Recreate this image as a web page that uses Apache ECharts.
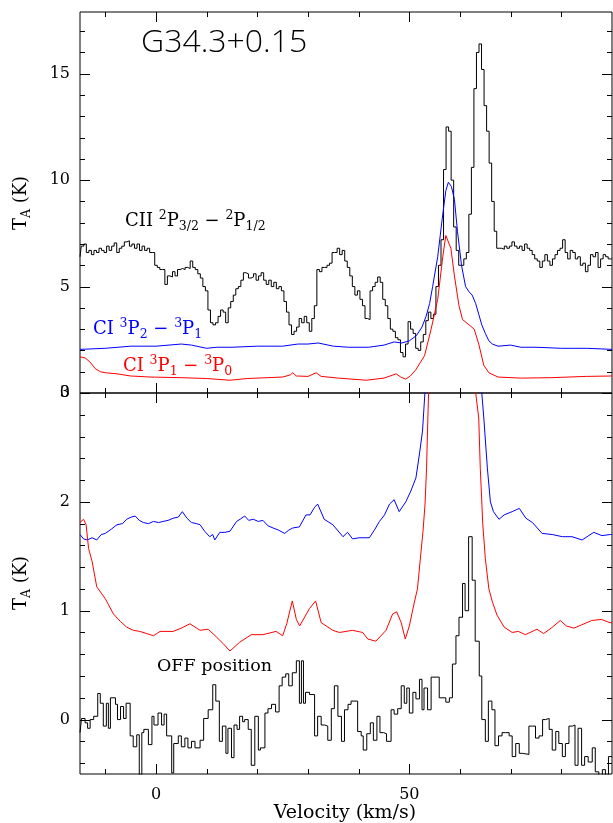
<!DOCTYPE html>
<html>
<head>
<meta charset="utf-8">
<script src="https://cdn.jsdelivr.net/npm/echarts@6/dist/echarts.min.js"></script>
<style>html,body{margin:0;padding:0;background:#fff}#c{width:613px;height:823px}</style>
</head>
<body>
<div id="c"></div>
<script>
// ---------------- data ----------------
const xMajorTicks = [0, 50];
const xMinorTicks = [-10, 10, 20, 30, 40, 60, 70, 80];
const topYMajorTicks = [0, 5, 10, 15];
const topYMinorTicks = [1, 2, 3, 4, 6, 7, 8, 9, 11, 12, 13, 14, 16, 17];
const botYMajorTicks = [0, 1, 2, 3];
const botYMinorTicks = [-0.4, -0.2, 0.2, 0.4, 0.6, 0.8, 1.2, 1.4, 1.6, 1.8, 2.2, 2.4, 2.6, 2.8];

// CII 2P3/2 - 2P1/2 (top panel, black)
const ciiV = [-15,-14.5,-14,-13.5,-13,-12.5,-12,-11.5,-11,-10.5,-10,-9.5,-9,-8.5,-8,-7.5,-7,-6.5,-6,-5.5,-5,-4.5,-4,-3.5,-3,-2.5,-2,-1.5,-1,-0.5,
0,0.5,1,1.5,2,2.5,3,3.5,4,4.5,5,5.5,6,6.5,7,7.5,8,8.5,9,9.5,10,10.5,11,11.5,12,12.5,13,13.5,14,14.5,
15,15.5,16,16.5,17,17.5,18,18.5,19,19.5,20,20.5,21,21.5,22,22.5,23,23.5,24,24.5,25,25.5,26,26.5,27,27.5,28,28.5,29,29.5,
30,30.5,31,31.5,32,32.5,33,33.5,34,34.5,35,35.5,36,36.5,37,37.5,38,38.5,39,39.5,40,40.5,41,41.5,42,42.5,43,43.5,44,44.5,
45,45.5,46,46.5,47,47.5,48,48.5,49,49.5,50,50.5,51,51.5,52,52.5,53,53.5,54,54.5,55,55.5,56,56.5,57,57.5,58,58.5,59,59.5,
60,60.5,61,61.5,62,62.5,63,63.5,64,64.5,65,65.5,66,66.5,67,67.5,68,68.5,69,69.5,70,70.5,71,71.5,72,72.5,73,73.5,74,74.5,
75,75.5,76,76.5,77,77.5,78,78.5,79,79.5,80,80.5,81,81.5,82,82.5,83,83.5,84,84.5,85,85.5,86,86.5,87,87.5,88,88.5,89,89.5,90];
const ciiT = [6.4,6.9,7.0,6.6,6.7,6.5,6.7,6.6,6.8,6.7,6.6,6.9,6.7,6.9,7.05,6.6,6.8,6.9,7.1,7.15,6.9,7.0,6.8,7.0,6.7,6.9,6.7,6.8,6.6,6.6,
6.0,5.9,5.8,5.8,5.1,5.5,5.45,5.7,5.5,5.8,5.85,5.8,5.9,5.85,6.2,5.9,5.8,5.6,5.4,5.0,4.8,3.9,3.3,3.2,3.3,3.6,3.9,3.8,3.3,4.0,
4.3,4.6,4.9,5.0,5.3,5.65,5.6,5.4,5.45,5.6,5.3,5.5,5.65,5.3,5.1,5.3,5.0,5.2,4.9,5.0,4.8,4.3,3.8,3.2,2.75,2.9,3.1,3.5,3.3,3.6,
3.3,2.9,3.5,4.1,5.8,5.7,5.9,5.9,6.0,6.1,6.6,6.6,6.8,6.5,6.7,6.2,5.9,5.5,5.0,4.6,4.8,4.4,4.1,3.5,3.45,4.8,5.0,5.2,5.45,5.2,
4.4,4.1,3.5,3.0,2.9,2.6,2.5,1.9,1.7,2.3,3.35,3.0,2.8,2.1,2.0,2.4,2.75,3.4,3.8,3.5,3.7,5.0,6.0,7.2,10.5,12.5,12.3,10.0,7.8,6.7,
6.0,6.0,6.3,6.6,8.4,10.6,14.3,16.0,16.4,15.2,13.5,12.3,10.8,9.0,7.6,6.8,6.8,6.75,6.9,6.8,6.9,7.1,6.9,6.8,6.9,6.7,7.0,6.8,6.7,6.5,
6.3,6.2,5.9,6.2,6.5,6.2,6.0,6.3,6.5,6.7,6.8,7.2,6.6,6.3,6.7,6.6,6.3,6.4,6.0,6.1,5.7,6.0,6.5,6.4,6.6,5.9,6.3,6.5,6.4,6.3,6.3];

// CI 3P2 - 3P1 (top panel, blue)
const ci21TopV = [-15,-10,-5,0,5,7,10,12,15,20,25,28,30,32,35,38,42,45,47,48.5,50,51.4,52.5,53.3,54,54.6,55.6,56.6,57.2,57.7,58.3,58.9,59.5,60.3,61.1,61.8,62.4,63.1,63.7,64.3,65.0,65.7,66.4,67.5,70,72,75,80,85,90];
const ci21TopT = [2.05,2.1,2.2,2.2,2.3,2.25,2.1,2.15,2.15,2.2,2.2,2.3,2.3,2.35,2.2,2.15,2.15,2.25,2.4,2.35,2.45,2.7,3.1,3.6,4.2,5.0,6.4,8.4,9.5,9.9,9.7,9.1,7.6,6.0,5.0,4.75,4.6,4.2,3.7,3.2,2.8,2.45,2.3,2.2,2.25,2.15,2.15,2.1,2.1,2.05];

// CI 3P1 - 3P0 (top panel, red)
const ci10TopV = [-15,-14,-13,-12,-11,-10,-7.7,-5,-1.2,5,10,14.6,18,22,25,26.5,27,27.7,30,31.6,32.6,36,41.5,45,47.4,48.3,49.3,50.2,51.3,53.0,54.3,55.6,56.6,57.2,57.5,58.2,58.9,59.8,60.5,61.8,62.8,63.7,64.7,65.7,67.5,72,78,85,90];
const ci10TopT = [1.7,1.65,1.45,1.15,1.0,0.95,0.9,0.8,0.75,0.72,0.68,0.6,0.68,0.72,0.75,0.85,0.95,0.8,0.78,0.95,0.78,0.7,0.6,0.7,0.9,0.75,0.65,0.8,1.1,1.75,3.0,4.4,6.4,7.4,7.45,6.8,5.5,4.1,3.45,3.2,3.0,2.3,1.3,0.95,0.75,0.7,0.72,0.78,0.8];

// CI 3P2 - 3P1 (bottom panel, blue)
const ci21V = [-15,-14.3,-13.6,-12.6,-11.7,-10.8,-10.0,-8.8,-7.7,-6.6,-5.8,-4.9,-4.1,-3.3,-2.5,-1.5,-0.5,0.5,1.4,2.4,3.4,4.4,5.2,6.1,7.0,8.0,8.7,9.6,10.6,11.2,11.6,12.6,13.6,14.6,15.9,16.6,17.5,18.3,19.2,20.2,21.1,22.1,23.1,24.2,25.4,26.2,27.0,28.3,29.6,30.4,31.3,31.9,33.2,34.9,36.9,37.8,38.8,40.1,42.1,43.1,44.1,45.1,46.1,47.0,48.0,49.3,50.3,51.3,52.0,52.6,53.1,54,55,56,57,57.7,58.5,59.5,60.5,61.5,62.5,63.5,64.3,64.7,65.4,66.0,66.6,67.7,68.7,70.3,71.7,73.0,74.3,76.2,78.2,80.2,82.1,84.1,86.4,88,89.7,90];
const ci21T = [1.70,1.66,1.65,1.67,1.65,1.70,1.71,1.75,1.79,1.80,1.84,1.86,1.87,1.83,1.81,1.80,1.82,1.81,1.82,1.83,1.85,1.86,1.91,1.85,1.81,1.80,1.79,1.73,1.68,1.70,1.65,1.72,1.72,1.73,1.82,1.84,1.87,1.83,1.84,1.82,1.83,1.78,1.76,1.74,1.71,1.74,1.76,1.77,1.88,1.88,1.95,1.98,1.84,1.79,1.68,1.72,1.66,1.67,1.67,1.74,1.82,1.88,1.98,2.02,1.91,2.0,2.1,2.22,2.44,2.65,3.02,3.8,5.2,7.3,9.0,9.6,9.4,7.6,5.6,4.8,4.5,3.8,3.0,2.77,2.31,2.0,1.91,1.84,1.88,1.91,1.94,1.85,1.81,1.71,1.70,1.68,1.68,1.65,1.72,1.69,1.70,1.70];

// CI 3P1 - 3P0 (bottom panel, red)
const ci10V = [-15,-14.3,-13.8,-13.3,-12.6,-11.7,-10.0,-8.4,-7.0,-5.8,-4.5,-3.2,-1.8,-0.5,0.8,3.4,5.0,6.7,8.7,10.3,11.9,13.2,14.6,16.5,18.8,21.1,23.7,25.0,25.8,26.9,27.7,28.35,30.3,31.5,32.6,34.9,36.2,38.8,40.8,41.8,43.4,45.4,46.7,47.5,48.4,49.2,50.0,51.0,51.6,52.3,52.7,53.1,53.4,53.6,53.8,55,56.6,57.3,58.2,59,60,61,62,62.6,63.1,63.7,64.0,64.5,65.0,65.7,66.4,67.3,68.7,70.3,71.5,72.9,75.2,76.5,78,79.8,81,82.5,84,86.0,87.9,89.6,90];
const ci10T = [1.81,1.84,1.79,1.57,1.45,1.22,1.11,0.97,0.90,0.85,0.82,0.81,0.79,0.77,0.81,0.81,0.84,0.88,0.82,0.83,0.76,0.70,0.63,0.71,0.78,0.78,0.81,0.77,0.88,1.09,0.92,0.86,1.02,1.09,0.89,0.82,0.80,0.82,0.80,0.74,0.72,0.82,0.97,0.99,0.89,0.74,0.86,1.08,1.2,1.54,1.73,1.98,2.31,2.67,3.0,4.4,6.4,7.4,6.8,5.5,4.1,3.4,3.2,3.1,3.0,2.77,2.31,1.79,1.48,1.2,1.08,0.96,0.85,0.80,0.81,0.78,0.83,0.79,0.84,0.91,0.86,0.84,0.87,0.91,0.92,0.89,0.89];

// OFF position (bottom panel, black histogram; left edge of each channel)
const offV = [-15.0,-14.7,-14.0,-13.5,-13.0,-12.3,-11.5,-11.0,-10.4,-9.8,-9.4,-9.0,-8.0,-7.6,-7.0,-6.4,-5.9,-5.1,-4.5,-3.8,-3.3,-2.8,-2.4,-1.5,-0.8,-0.4,0.4,1.1,1.6,2.1,3.1,3.5,4.4,5.0,5.7,6.3,7.0,7.7,8.7,9.4,10.3,11.2,11.8,12.5,13.1,13.8,14.2,14.9,15.4,16.0,16.5,17.1,17.5,18.2,18.8,19.5,20.2,20.6,21.5,22.1,22.8,23.6,24.3,24.9,25.6,26.2,26.9,27.7,28.3,28.7,29.1,29.5,30.3,31.3,31.9,32.6,33.3,33.9,34.6,35.2,35.9,36.6,37.2,37.9,38.5,39.8,40.5,40.9,41.6,42.3,42.9,43.6,44.2,44.9,45.5,46.4,47.0,47.7,48.4,49.0,49.5,50.0,50.7,51.3,52.0,52.5,52.9,53.6,54.3,55.9,57.2,57.9,58.5,59.2,59.8,60.5,61.0,61.7,62.4,63.0,63.8,64.3,65.0,65.6,66.3,66.9,67.6,68.3,69.0,69.7,70.3,71.0,71.7,72.3,73.6,74.3,74.9,75.6,76.3,76.9,77.6,78.2,78.9,79.5,80.2,80.8,81.5,82.2,82.7,83.3,84.0,84.6,85.3,86.1,86.7,87.4,88.1,88.7,89.3,90.0];
const offT = [-0.12,0.01,-0.03,-0.08,0.0,0.03,0.24,0.15,-0.06,0.15,-0.08,0.20,0.14,0.0,0.12,0.01,0.15,-0.15,-0.25,-0.14,-0.51,-0.12,-0.09,-0.23,0.03,-0.05,0.06,-0.05,0.05,-0.15,-0.49,-0.22,-0.15,-0.25,-0.17,-0.26,-0.20,-0.26,-0.19,0.01,0.09,0.32,0.17,-0.20,-0.06,-0.31,-0.08,-0.35,-0.05,-0.09,0.03,-0.02,0.0,-0.09,-0.42,0.03,-0.28,-0.26,0.06,0.10,0.14,0.07,0.31,0.39,0.42,0.31,0.43,0.54,0.15,0.54,0.15,0.25,0.23,-0.15,0.03,-0.05,-0.06,-0.19,0.10,0.31,0.03,-0.20,0.09,0.14,0.17,-0.11,-0.15,-0.28,-0.13,-0.03,-0.19,0.03,-0.12,-0.13,-0.20,0.09,0.05,0.10,0.31,0.15,0.29,0.06,0.25,0.19,0.37,0.09,0.29,0.09,0.39,0.20,0.16,0.20,0.51,0.77,0.94,1.25,1.0,1.68,1.28,0.72,0.40,0.0,-0.20,0.17,0.09,-0.24,-0.15,-0.12,-0.12,-0.15,-0.34,-0.22,-0.31,-0.32,-0.06,-0.06,-0.17,-0.15,0.0,0.01,-0.09,-0.28,-0.11,-0.22,-0.34,-0.22,-0.06,-0.05,-0.42,-0.08,-0.42,-0.34,-0.39,-0.26,-0.48,-0.52,-0.46,-0.51,-0.34,-0.34];

// ---------------- chart ----------------
const zip = (a, b) => a.map((v, i) => [v, b[i]]);
const FONT = 'DejaVu Serif';
const G0 = {left: 80, top: 12, width: 532, height: 381, show: true, borderColor: '#000', borderWidth: 1, backgroundColor: 'transparent'};
const G1 = {left: 80, top: 393, width: 532, height: 381, show: true, borderColor: '#000', borderWidth: 1, backgroundColor: 'transparent'};

function xAx(grid, labels) {
  return {
    type: 'value', gridIndex: grid, position: 'bottom', min: -15, max: 90,
    axisLine: {show: false, onZero: false},
    axisTick: {show: false},
    axisLabel: labels ? {show: true, customValues: labels, margin: 13, color: '#000', fontFamily: FONT, fontSize: 16} : {show: false},
    splitLine: {show: false}, minorTick: {show: false}
  };
}
function yAx(grid, min, max, labels) {
  return {
    type: 'value', gridIndex: grid, position: 'left', min: min, max: max,
    axisLine: {show: false, onZero: false},
    axisTick: {show: false},
    axisLabel: {show: true, customValues: labels, margin: 10, color: '#000', fontFamily: FONT, fontSize: 16},
    splitLine: {show: false}, minorTick: {show: false}
  };
}

function line(xi, yi, data, color, step) {
  return {
    type: 'line', xAxisIndex: xi, yAxisIndex: yi, data: data, step: step || false,
    showSymbol: false, symbol: 'none', clip: true, smooth: false,
    lineStyle: {color: color, width: 1}, itemStyle: {color: color}, z: 3
  };
}

// tick marks drawn on all four frame sides through the axes' own scales
// kind: 0 = x major, 1 = x minor, 2 = y major, 3 = y minor
function tickSeries(gi, xMaj, xMin, yMaj, yMin) {
  const data = [];
  xMaj.forEach(v => data.push([v, 0]));
  xMin.forEach(v => data.push([v, 1]));
  yMaj.forEach(v => data.push([v, 2]));
  yMin.forEach(v => data.push([v, 3]));
  return {
    type: 'custom', xAxisIndex: gi, yAxisIndex: gi, silent: true, z: 5,
    data: data, encode: {x: -1, y: -1},
    renderItem: function (params, api) {
      const v = api.value(0), kind = api.value(1);
      const cs = params.coordSys;
      const st = {stroke: '#000', lineWidth: 1};
      const L = (kind === 0 || kind === 2) ? 10 : 5;
      if (kind < 2) {
        const px = Math.round(api.coord([v, 1])[0]) + 0.5;
        const yb = cs.y + cs.height, yt = cs.y;
        return {type: 'group', children: [
          {type: 'line', shape: {x1: px, y1: yb, x2: px, y2: yb - L}, style: st},
          {type: 'line', shape: {x1: px, y1: yt, x2: px, y2: yt + L}, style: st}
        ]};
      } else {
        const py = Math.round(api.coord([0, v])[1]) + 0.5;
        const xl = cs.x, xr = cs.x + cs.width;
        return {type: 'group', children: [
          {type: 'line', shape: {x1: xl, y1: py, x2: xl + L, y2: py}, style: st},
          {type: 'line', shape: {x1: xr, y1: py, x2: xr - L, y2: py}, style: st}
        ]};
      }
    }
  };
}

const rich = (c) => ({
  m: {fontFamily: FONT, fontSize: 18, fill: c, lineHeight: 24, verticalAlign: 'middle'},
  p: {fontFamily: FONT, fontSize: 12.5, fill: c, verticalAlign: 'top'},
  b: {fontFamily: FONT, fontSize: 12.5, fill: c, verticalAlign: 'bottom'}
});

function label(x, y, text, color, rot) {
  return {
    type: 'text', x: x, y: y, rotation: rot || 0, silent: true, z: 10,
    style: {text: text, rich: rich(color), fill: color, font: '18px "DejaVu Serif"',
      align: rot ? 'center' : 'left', verticalAlign: 'middle'}
  };
}

const chart = echarts.init(document.getElementById('c'), null, {renderer: 'canvas'});
chart.setOption({
  animation: false,
  backgroundColor: '#fff',
  grid: [G0, G1],
  xAxis: [xAx(0, null), xAx(1, xMajorTicks)],
  yAxis: [yAx(0, 0, 17.9, topYMajorTicks), yAx(1, -0.5, 3, botYMajorTicks)],
  series: [
    line(0, 0, zip(ciiV, ciiT), '#000', 'middle'),
    line(0, 0, zip(ci21TopV, ci21TopT), '#0000ff'),
    line(0, 0, zip(ci10TopV, ci10TopT), '#ff0000'),
    line(1, 1, zip(ci21V, ci21T), '#0000ff'),
    line(1, 1, zip(ci10V, ci10T), '#ff0000'),
    line(1, 1, zip(offV, offT), '#000', 'end'),
    tickSeries(0, xMajorTicks, xMinorTicks, topYMajorTicks, topYMinorTicks),
    tickSeries(1, xMajorTicks, xMinorTicks, botYMajorTicks, botYMinorTicks)
  ],
  graphic: [
    {type: 'text', x: 141, y: 43, silent: true, style: {text: 'G34.3+0.15', font: '300 32px "Open Sans", "DejaVu Sans"', fill: '#000', align: 'left', verticalAlign: 'middle'}},
    label(125, 221, '{m|CII }{p|2}{m|P}{b|3/2}{m| − }{p|2}{m|P}{b|1/2}', '#000'),
    label(93, 329, '{m|CI }{p|3}{m|P}{b|2}{m| − }{p|3}{m|P}{b|1}', '#0000ff'),
    label(123, 366, '{m|CI }{p|3}{m|P}{b|1}{m| − }{p|3}{m|P}{b|0}', '#ff0000'),
    {type: 'text', x: 157, y: 666, silent: true, style: {text: 'OFF position', font: '17.5px "DejaVu Serif"', fill: '#000', align: 'left', verticalAlign: 'middle'}},
    {type: 'text', x: 345, y: 813, silent: true, style: {text: 'Velocity (km/s)', font: '19px "DejaVu Serif"', fill: '#000', align: 'center', verticalAlign: 'middle'}},
    label(21, 203, '{m|T}{b|A}{m| (K)}', '#000', Math.PI / 2),
    label(21, 583, '{m|T}{b|A}{m| (K)}', '#000', Math.PI / 2)
  ]
});
</script>
</body>
</html>
